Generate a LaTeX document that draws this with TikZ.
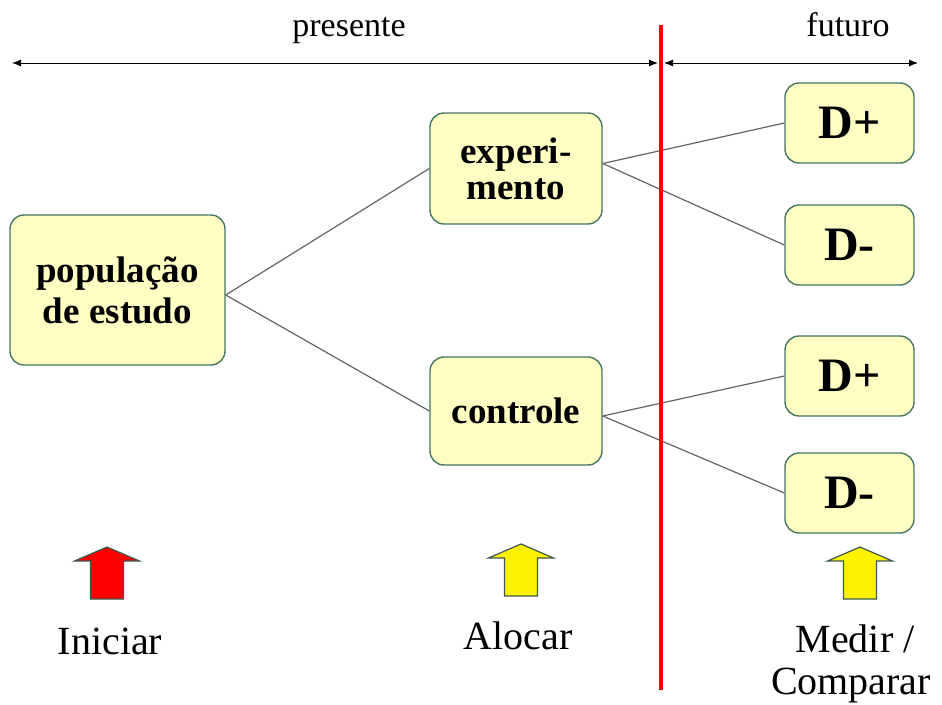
\documentclass[tikz,border=0pt]{standalone}
\usepackage{fontspec}
\setmainfont{Liberation Serif}
\usetikzlibrary{arrows.meta}

\definecolor{boxfill}{RGB}{255,255,196}
\definecolor{boxline}{RGB}{70,118,100}
\definecolor{linkgray}{RGB}{100,100,100}
\definecolor{arrowline}{RGB}{60,90,80}

\tikzset{
  stage/.style={draw=boxline, fill=boxfill, line width=1.4pt, rounded corners=14pt,
    align=center, inner sep=0pt, font=\fontsize{37}{36}\selectfont\bfseries},
  outcome/.style={stage, minimum width=129pt, minimum height=80pt,
    font=\fontsize{48}{48}\selectfont\bfseries},
  link/.style={draw=linkgray, line width=1.2pt},
  timeline/.style={draw=black, line width=1pt, {Latex[length=9pt,width=7pt]}-{Latex[length=9pt,width=7pt]}},
  caption/.style={align=center, font=\fontsize{40}{40}\selectfont},
  period/.style={anchor=base, font=\fontsize{34}{40}\selectfont},
  pics/uparrow/.style={code={
    \filldraw[draw=arrowline, line width=1.2pt, fill=#1]
      (0,0) -- (32.5,14) -- (16.5,14) -- (16.5,52) -- (-16.5,52) -- (-16.5,14) -- (-32.5,14) -- cycle;
  }}
}

\begin{document}
\begin{tikzpicture}[x=1pt, y=-1pt]
\useasboundingbox (0,0) rectangle (942,704);

% time axis
\node[period] (pres) at (349,36) {presente};
\node[period] (fut) at (848,36) {futuro};
\coordinate (t0) at (12,63);
\coordinate (t1) at (658,63);
\coordinate (t2) at (664,63);
\coordinate (t3) at (918,63);
\path[timeline] (t0) -- (t1);
\path[timeline] (t2) -- (t3);

% study groups
\node[stage, minimum width=215pt, minimum height=150pt, font=\fontsize{37}{41}\selectfont\bfseries] (pop) at (117.5,290) {população\\de estudo};
\node[stage, minimum width=172pt, minimum height=111pt] (exp) at (516,168.5) {experi-\\mento};
\node[stage, minimum width=172pt, minimum height=108pt] (ctl) at (516,411) {controle};

% outcomes
\node[outcome] (dp1) at (849.5,123) {D+};
\node[outcome] (dm1) at (849.5,245) {D-};
\node[outcome] (dp2) at (849.5,376) {D+};
\node[outcome] (dm2) at (849.5,493) {D-};

% branches (shifts are in page direction, y points up there)
\path[link] ([yshift=-5pt]pop.east) -- (exp.west);
\path[link] ([yshift=-5pt]pop.east) -- (ctl.west);
\path[link] ([yshift=5pt]exp.east) -- (dp1.west);
\path[link] ([yshift=5pt]exp.east) -- (dm1.west);
\path[link] ([yshift=-5pt]ctl.east) -- (dp2.west);
\path[link] ([yshift=-5pt]ctl.east) -- (dm2.west);

% present / future divide
\coordinate (r0) at (661,25);
\coordinate (r1) at (661,690);
\path[draw=red, line width=4.5pt] (r0) -- (r1);

% steps
\pic at (107,547) {uparrow=red};
\pic at (521,544) {uparrow=yellow};
\pic at (860,547) {uparrow=yellow};

\node[caption, anchor=base] (ini) at (110,654) {Iniciar};
\node[caption, anchor=base] (alo) at (518,649) {Alocar};
\node[caption, anchor=base] (med) at (855,652) {Medir /};
\node[caption, anchor=base] (cmp) at (851,694) {Comparar};
\end{tikzpicture}
\end{document}
